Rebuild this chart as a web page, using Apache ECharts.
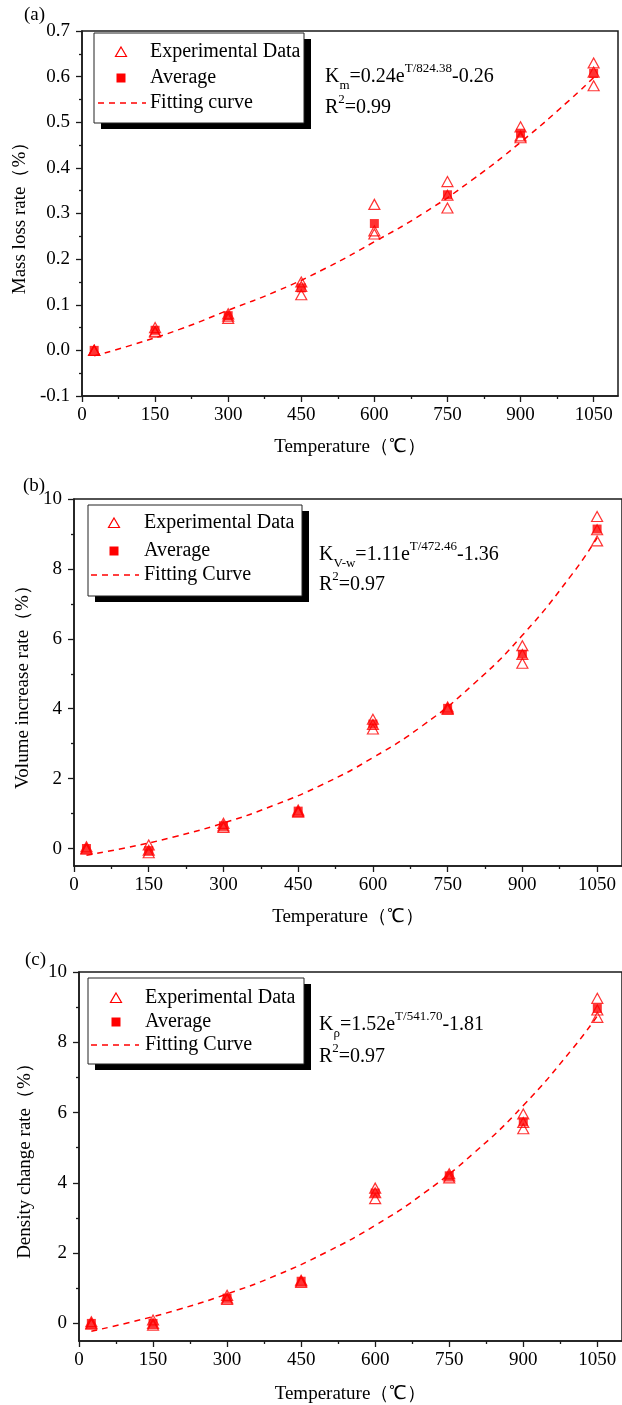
<!DOCTYPE html>
<html><head><meta charset="utf-8">
<script src="https://cdn.jsdelivr.net/npm/echarts@6/dist/echarts.min.js"></script>
<style>html,body{margin:0;padding:0;background:#fff}#c{width:622px;height:1405px}</style>
</head><body><div id="c"></div><script>
// ---------------- data ----------------
const temps = [25, 150, 300, 450, 600, 750, 900, 1050];
const massExp1 = [0.000, 0.050, 0.080, 0.150, 0.320, 0.370, 0.490, 0.630];
const massExp2 = [0.000, 0.042, 0.075, 0.140, 0.262, 0.340, 0.470, 0.610];
const massExp3 = [0.000, 0.040, 0.070, 0.122, 0.255, 0.312, 0.466, 0.580];
const massAvg  = [0.000, 0.044, 0.076, 0.137, 0.278, 0.341, 0.476, 0.607];
const volExp1 = [0.05, 0.10, 0.72, 1.10, 3.70, 4.05, 5.80, 9.50];
const volExp2 = [0.00, -0.05, 0.65, 1.06, 3.55, 4.01, 5.55, 9.12];
const volExp3 = [-0.02, -0.12, 0.60, 1.04, 3.42, 3.98, 5.30, 8.80];
const volAvg  = [0.00, -0.06, 0.65, 1.07, 3.56, 4.01, 5.56, 9.14];
const denExp1 = [0.05, 0.10, 0.80, 1.23, 3.85, 4.26, 5.96, 9.25];
const denExp2 = [0.00, 0.00, 0.72, 1.20, 3.72, 4.20, 5.72, 8.92];
const denExp3 = [-0.02, -0.05, 0.68, 1.17, 3.55, 4.14, 5.54, 8.71];
const denAvg  = [0.00, 0.00, 0.72, 1.20, 3.71, 4.20, 5.74, 8.96];
const fitT    = [25, 100, 200, 300, 400, 500, 600, 700, 800, 900, 1000, 1050];
const massFit = [-0.012, 0.011, 0.046, 0.088, 0.130, 0.180, 0.238, 0.300, 0.373, 0.456, 0.548, 0.598];
const volFit  = [-0.19, 0.01, 0.33, 0.73, 1.23, 1.84, 2.60, 3.52, 4.68, 6.10, 7.85, 8.89];
const denFit  = [-0.22, 0.02, 0.39, 0.84, 1.37, 2.02, 2.79, 3.72, 4.85, 6.20, 7.82, 8.75];
const xMajor = [0, 150, 300, 450, 600, 750, 900, 1050];
const xMinor = [75, 225, 375, 525, 675, 825, 975];
const massYMajor = [-0.1, 0, 0.1, 0.2, 0.3, 0.4, 0.5, 0.6, 0.7];
const massYMinor = [-0.05, 0.05, 0.15, 0.25, 0.35, 0.45, 0.55, 0.65];
const rateYMajor = [0, 2, 4, 6, 8, 10];
const rateYMinor = [1, 3, 5, 7, 9];
const legendLabels = [
  ['Experimental Data', 'Average', 'Fitting curve'],
  ['Experimental Data', 'Average', 'Fitting Curve'],
  ['Experimental Data', 'Average', 'Fitting Curve']
];
const yNames = ['Mass loss rate（%）', 'Volume increase rate（%）', 'Density change rate（%）'];
const xName = 'Temperature（℃）';
const panelTags = ['(a)', '(b)', '(c)'];

// ---------------- layout / style ----------------
const FONT = '"Liberation Serif","Times New Roman",serif';
const RED = '#ff0000';
const AX = '#1a1a1a';
const panels = [
  {left: 82, top: 31, width: 536, height: 365, ymin: -0.1, ymax: 0.7, yMaj: massYMajor, yMin: massYMinor, dec: 1,
   exp: [massExp1, massExp2, massExp3], avg: massAvg, fit: massFit, nameGapX: 42, nameGapY: 50,
   tag: [24, 15],
   box: {x: 94, y: 33, w: 210, h: 90}, mx: 121, rows: [52, 78, 103], tx: 150, lx: [98, 146],
   fx: 325, fy: [77, 108],
   formula: '{b|K}{s|m}{b|=0.24e}{p|T/824.38}{b|-0.26}', r2: '{b|R}{p|2}{b|=0.99}'},
  {left: 74, top: 499, width: 549, height: 367, ymin: -0.5, ymax: 10, yMaj: rateYMajor, yMin: rateYMinor, dec: 0,
   exp: [volExp1, volExp2, volExp3], avg: volAvg, fit: volFit, nameGapX: 42, nameGapY: 40,
   tag: [23, 486],
   box: {x: 88, y: 505, w: 214, h: 91}, mx: 114, rows: [523, 551, 575], tx: 144, lx: [91, 139],
   fx: 319, fy: [555, 585],
   formula: '{b|K}{s|V-w}{b|=1.11e}{p|T/472.46}{b|-1.36}', r2: '{b|R}{p|2}{b|=0.97}'},
  {left: 79, top: 972, width: 550, height: 369, ymin: -0.5, ymax: 10, yMaj: rateYMajor, yMin: rateYMinor, dec: 0,
   exp: [denExp1, denExp2, denExp3], avg: denAvg, fit: denFit, nameGapX: 44, nameGapY: 44,
   tag: [25, 960],
   box: {x: 88, y: 978, w: 216, h: 86}, mx: 116, rows: [998, 1022, 1045], tx: 145, lx: [91, 139],
   fx: 319, fy: [1025, 1057],
   formula: '{b|K}{s|ρ}{b|=1.52e}{p|T/541.70}{b|-1.81}', r2: '{b|R}{p|2}{b|=0.97}'}
];

const rich = {
  b: {fontSize: 20, fontFamily: FONT, fill: '#000', color: '#000', lineHeight: 30, verticalAlign: 'middle'},
  p: {fontSize: 13, fontFamily: FONT, fill: '#000', color: '#000', lineHeight: 13, verticalAlign: 'top'},
  s: {fontSize: 13, fontFamily: FONT, fill: '#000', color: '#000', lineHeight: 13, verticalAlign: 'bottom'}
};

const grids = [], xAxes = [], yAxes = [], series = [], graphics = [];
panels.forEach((p, i) => {
  grids.push({left: p.left, top: p.top, width: p.width, height: p.height, show: true,
    borderColor: AX, borderWidth: 1.5, backgroundColor: 'rgba(0,0,0,0)', containLabel: false});
  const line = {show: true, onZero: false, lineStyle: {color: AX, width: 1.5}};
  xAxes.push({type: 'value', gridIndex: i, min: 0, max: 1100, position: 'bottom',
    axisLine: line, splitLine: {show: false},
    axisTick: {show: true, length: 6, customValues: xMajor, lineStyle: {color: AX, width: 1.3}},
    axisLabel: {customValues: xMajor, fontSize: 19, fontFamily: FONT, color: '#000', margin: 10,
      formatter: v => String(v)},
    name: xName, nameLocation: 'middle', nameGap: p.nameGapX,
    nameTextStyle: {fontSize: 19, fontFamily: FONT, color: '#000'}});
  xAxes.push({type: 'value', gridIndex: i, min: 0, max: 1100, position: 'bottom',
    axisLine: {show: false, onZero: false}, splitLine: {show: false}, axisLabel: {show: false},
    axisTick: {show: true, length: 3, customValues: xMinor, lineStyle: {color: AX, width: 1.3}}});
  yAxes.push({type: 'value', gridIndex: i, min: p.ymin, max: p.ymax, position: 'left',
    axisLine: line, splitLine: {show: false},
    axisTick: {show: true, length: 6, customValues: p.yMaj, lineStyle: {color: AX, width: 1.3}},
    axisLabel: {customValues: p.yMaj, fontSize: 19, fontFamily: FONT, color: '#000', margin: 12,
      formatter: v => Number(v).toFixed(p.dec)},
    name: yNames[i], nameLocation: 'middle', nameGap: p.nameGapY,
    nameTextStyle: {fontSize: 19, fontFamily: FONT, color: '#000'}});
  yAxes.push({type: 'value', gridIndex: i, min: p.ymin, max: p.ymax, position: 'left',
    axisLine: {show: false, onZero: false}, splitLine: {show: false}, axisLabel: {show: false},
    axisTick: {show: true, length: 3, customValues: p.yMin, lineStyle: {color: AX, width: 1.3}}});

  const expData = [];
  p.exp.forEach(arr => arr.forEach((v, k) => expData.push([temps[k], v])));
  series.push({type: 'scatter', name: legendLabels[i][0], xAxisIndex: 2 * i, yAxisIndex: 2 * i,
    symbol: 'triangle', symbolSize: [11, 10], data: expData, z: 3,
    itemStyle: {color: 'rgba(255,255,255,0)', borderColor: RED, borderWidth: 1.2}});
  series.push({type: 'scatter', name: legendLabels[i][1], xAxisIndex: 2 * i, yAxisIndex: 2 * i,
    symbol: 'rect', symbolSize: 9, data: p.avg.map((v, k) => [temps[k], v]), z: 4,
    itemStyle: {color: RED}});
  series.push({type: 'line', name: legendLabels[i][2], xAxisIndex: 2 * i, yAxisIndex: 2 * i,
    data: fitT.map((t, k) => [t, p.fit[k]]), smooth: true, symbol: 'none', z: 2,
    lineStyle: {color: RED, width: 1.5, type: [6, 5]}});

  // legend box and annotations
  const b = p.box, m = p.mx, r = p.rows;
  graphics.push({type: 'rect', shape: {x: b.x + 7, y: b.y + 6, width: b.w, height: b.h}, style: {fill: '#000'}, z: 10});
  graphics.push({type: 'rect', shape: {x: b.x, y: b.y, width: b.w, height: b.h}, style: {fill: '#fff', stroke: '#222', lineWidth: 1}, z: 11});
  graphics.push({type: 'polygon', shape: {points: [[m, r[0] - 5], [m + 5.5, r[0] + 4.5], [m - 5.5, r[0] + 4.5]]},
    style: {fill: 'rgba(255,255,255,0)', stroke: RED, lineWidth: 1.2}, z: 12});
  graphics.push({type: 'rect', shape: {x: m - 4.5, y: r[1] - 4.5, width: 9, height: 9}, style: {fill: RED}, z: 12});
  graphics.push({type: 'line', shape: {x1: p.lx[0], y1: r[2], x2: p.lx[1], y2: r[2]},
    style: {stroke: RED, lineWidth: 1.5, lineDash: [6, 5]}, z: 12});
  legendLabels[i].forEach((t, k) => graphics.push({type: 'text', z: 12,
    style: {text: t, x: p.tx, y: r[k], fill: '#000', font: '20px ' + FONT, verticalAlign: 'middle', textVerticalAlign: 'middle'}}));
  graphics.push({type: 'text', z: 12, style: {text: p.formula, x: p.fx, y: p.fy[0], fill: '#000', font: '20px ' + FONT,
    verticalAlign: 'middle', textVerticalAlign: 'middle', rich: rich}});
  graphics.push({type: 'text', z: 12, style: {text: p.r2, x: p.fx, y: p.fy[1], fill: '#000', font: '20px ' + FONT,
    verticalAlign: 'middle', textVerticalAlign: 'middle', rich: rich}});
  graphics.push({type: 'text', z: 12, style: {text: panelTags[i], x: p.tag[0], y: p.tag[1], fill: '#000', font: '19px ' + FONT,
    verticalAlign: 'middle', textVerticalAlign: 'middle'}});
});

const chart = echarts.init(document.getElementById('c'), null, {renderer: 'canvas'});
chart.setOption({
  animation: false,
  backgroundColor: '#fff',
  grid: grids, xAxis: xAxes, yAxis: yAxes, series: series, graphic: graphics
});
</script></body></html>
